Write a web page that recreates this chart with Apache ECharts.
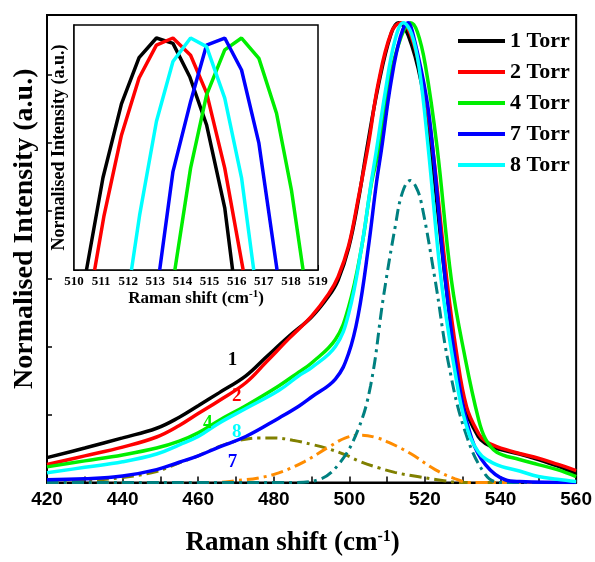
<!DOCTYPE html>
<html>
<head>
<meta charset="utf-8">
<script src="https://cdn.jsdelivr.net/npm/echarts@6/dist/echarts.min.js"></script>
<style>
  html, body { margin: 0; padding: 0; background: #fff; }
  #chart { width: 595px; height: 562px; }
</style>
</head>
<body>
<div id="chart"></div>
<script>
// ---- main plot: normalised spectra [raman shift, intensity] ----
var torr1 = [[420,0.054],[430,0.075],[440,0.097],[449,0.118],[455,0.142],[460,0.167],[465.5,0.195],[472.6,0.232],[478,0.273],[484,0.318],[490,0.36],[494.5,0.405],[497,0.44],[499.8,0.51],[502.4,0.615],[504.5,0.72],[507.7,0.865],[511,0.975],[513,1.0],[515.6,0.972],[519,0.871],[521.5,0.73],[525.4,0.44],[528,0.281],[530.7,0.161],[534.1,0.1],[536,0.085],[539,0.074],[545,0.062],[550,0.05],[555,0.036],[560,0.019]];
var torr2 = [[420,0.039],[430,0.058],[440,0.077],[449,0.099],[455,0.124],[460,0.15],[465.5,0.178],[472.6,0.217],[478,0.262],[484,0.313],[490,0.362],[494.5,0.41],[497,0.447],[499.8,0.515],[502.4,0.62],[505,0.734],[507.7,0.871],[511.1,0.979],[513.6,1.0],[516.2,0.975],[519.5,0.87],[522,0.73],[525.8,0.44],[528.3,0.285],[531,0.165],[534.3,0.105],[536,0.09],[539,0.078],[545,0.063],[550,0.053],[555,0.04],[560,0.026]];
var torr4 = [[420,0.034],[430,0.047],[440,0.06],[449,0.075],[455,0.09],[460,0.108],[465.5,0.135],[472.6,0.167],[481.3,0.21],[486.6,0.24],[490,0.26],[496.3,0.311],[499.8,0.382],[503.2,0.51],[505.9,0.654],[507.7,0.72],[510.5,0.87],[513.5,0.965],[516.2,1.0],[518,0.98],[520.1,0.908],[523.2,0.73],[527,0.44],[530.7,0.268],[534.1,0.14],[536,0.095],[539,0.066],[545,0.05],[550,0.039],[555,0.028],[560,0.013]];
var torr7 = [[420,0.006],[430,0.008],[440,0.014],[449,0.028],[455,0.044],[460,0.058],[465.5,0.077],[472.6,0.1],[481.3,0.14],[486.6,0.166],[490,0.186],[496.3,0.225],[499.8,0.281],[502.4,0.367],[505,0.51],[507.2,0.654],[508.5,0.725],[511,0.87],[513.5,0.97],[515.5,1.0],[517,0.97],[520.4,0.837],[522.2,0.715],[525.4,0.44],[528.8,0.225],[532.3,0.097],[536,0.039],[541.2,0.006],[545,0.002],[560,0]];
var torr8 = [[420,0.021],[430,0.033],[440,0.045],[449,0.062],[455,0.082],[460,0.1],[465.5,0.129],[472.6,0.161],[481.3,0.2],[486.6,0.232],[490,0.25],[496.3,0.296],[499.8,0.367],[503.2,0.51],[505.8,0.654],[507.2,0.725],[509.5,0.85],[512,0.96],[514.3,1.0],[516.5,0.975],[518.5,0.9],[520.9,0.725],[524.3,0.44],[528,0.238],[530.7,0.131],[534.1,0.067],[538.6,0.04],[545,0.025],[550,0.013],[555,0.007],[560,0.002]];

// fitted components (dash-dot)
var fitMain = [[420,0],[485,0],[491.8,0.006],[497.1,0.039],[502,0.109],[505.6,0.21],[509,0.403],[512.2,0.56],[514,0.63],[516.1,0.657],[517.5,0.645],[519,0.61],[522.7,0.44],[526.2,0.26],[530.7,0.109],[536,0.017],[540,0],[560,0]];
var fitMid = [[420,0],[465,0],[470,0.004],[476,0.01],[481.3,0.021],[488,0.045],[494.5,0.077],[499,0.097],[503,0.103],[507,0.098],[511,0.085],[516.4,0.062],[522.7,0.028],[528,0.008],[532,0],[560,0]];
var fitLow = [[420,0],[430,0.004],[440,0.011],[449,0.024],[455,0.043],[460,0.058],[465.5,0.078],[470,0.09],[476,0.097],[480,0.097],[485,0.092],[490,0.083],[495,0.072],[499,0.06],[503,0.045],[507.7,0.032],[512,0.022],[518,0.013],[525,0.004],[530,0],[560,0]];

// ---- inset: zoom of the peak top ----
var inset1 = [[510.46,0.852],[511.07,0.911],[511.75,0.958],[512.4,0.9875],[513.04,1.0],[513.65,0.9966],[514.27,0.9753],[514.89,0.9446],[515.56,0.8917],[515.85,0.852]];
var inset2 = [[510.76,0.852],[511.1,0.886],[511.75,0.938],[512.4,0.9745],[513.04,0.9955],[513.65,1.0],[514.3,0.989],[514.89,0.965],[515.56,0.917],[516.24,0.852]];
var inset4 = [[513.72,0.852],[514.3,0.917],[514.89,0.9637],[515.56,0.9924],[516.18,1.0],[516.82,0.987],[517.47,0.952],[518.02,0.903],[518.45,0.852]];
var inset7 = [[513.16,0.852],[513.65,0.9148],[514.3,0.9594],[514.89,0.9955],[515.56,1.0],[516.18,0.9796],[516.82,0.9329],[517.49,0.852]];
var inset8 = [[512.12,0.852],[512.42,0.887],[513.04,0.9467],[513.65,0.985],[514.3,1.0],[514.89,0.9945],[515.56,0.9616],[516.18,0.9108],[516.63,0.852]];

var legendNames = ['1 Torr', '2 Torr', '4 Torr', '7 Torr', '8 Torr'];
var curveColors = ['#000000', '#ff0000', '#00ee00', '#0000ff', '#00ffff'];
// curve number labels: [label, shift, intensity]
var curveTags = [['1', 469.1, 0.266], ['2', 470.2, 0.189], ['4', 462.5, 0.129], ['8', 470.2, 0.109], ['7', 469.1, 0.045]];

var serif = '"Liberation Serif", "Times New Roman", serif';

function tag(idx) {
    var t = curveTags.filter(function (c) { return c[0] === legendNames[idx].charAt(0); })[0];
    return {
        symbol: 'rect',
        symbolSize: 1,
        itemStyle: { color: 'transparent' },
        label: {
            show: true, position: 'inside', formatter: t[0],
            color: curveColors[idx], fontFamily: serif, fontWeight: 'bold', fontSize: 19
        },
        data: [{ coord: [t[1], t[2]] }]
    };
}

var mainData = [torr1, torr2, torr4, torr7, torr8];
var insetData = [inset1, inset2, inset4, inset7, inset8];

var series = [];

// 拟合分量
[[fitLow, '#808000'], [fitMid, '#ff8c00'], [fitMain, '#008080']].forEach(function (f) {
    series.push({
        type: 'line', xAxisIndex: 0, yAxisIndex: 0,
        data: f[0], smooth: 0.4, showSymbol: false, symbol: 'none',
        lineStyle: { color: f[1], width: 3, type: [12, 5, 3, 5] },
        z: 2
    });
});

// 主图曲线
mainData.forEach(function (d, i) {
    series.push({
        name: legendNames[i],
        type: 'line', xAxisIndex: 0, yAxisIndex: 0,
        data: d, smooth: 0.4, symbol: 'none',
        itemStyle: { color: curveColors[i] },
        lineStyle: { color: curveColors[i], width: 3.5 },
        markPoint: tag(i),
        z: 3
    });
});

// inset 曲线
insetData.forEach(function (d, i) {
    series.push({
        name: legendNames[i],
        type: 'line', xAxisIndex: 1, yAxisIndex: 1,
        data: d, smooth: false, symbol: 'none',
        itemStyle: { color: curveColors[i] },
        lineStyle: { color: curveColors[i], width: 3.5 },
        z: 6
    });
});

var chart = echarts.init(document.getElementById('chart'), null, { renderer: 'canvas' });

chart.setOption({
    backgroundColor: '#fff',
    animation: false,
    legend: {
        data: legendNames,
        orient: 'vertical',
        left: 458, top: 30,
        padding: 0,
        icon: 'rect',
        itemWidth: 47, itemHeight: 4, itemGap: 9,
        textStyle: { fontFamily: serif, fontWeight: 'bold', fontSize: 22, lineHeight: 22, color: '#000' }
    },
    grid: [
        { left: 47, top: 15, width: 531, height: 473, show: true, borderColor: '#000', borderWidth: 2, backgroundColor: 'transparent', z: 1 },
        { left: 74, top: 25, width: 244, height: 245, show: true, borderColor: '#000', borderWidth: 1.5, backgroundColor: '#fff', z: 5 }
    ],
    xAxis: [
        {
            gridIndex: 0, type: 'value', min: 420, max: 560, interval: 10,
            name: '{t|Raman shift (cm}{s|-1}{t|)}',
            nameLocation: 'middle', nameGap: 46,
            nameTextStyle: {
                padding: [0, 38, 0, 0],
                rich: {
                    t: { fontFamily: serif, fontWeight: 'bold', fontSize: 27, color: '#000' },
                    s: { fontFamily: serif, fontWeight: 'bold', fontSize: 16, color: '#000', verticalAlign: 'top', padding: [0, 0, 14, 0] }
                }
            },
            axisLine: { lineStyle: { color: '#000', width: 2 } },
            axisTick: { inside: true, length: 6, lineStyle: { color: '#000', width: 1.5 } },
            axisLabel: {
                margin: 8,
                formatter: function (v) { return v % 20 === 0 ? v : ''; },
                fontFamily: '"Liberation Sans", Arial, sans-serif',
                fontWeight: 'bold', fontSize: 19, color: '#000'
            },
            splitLine: { show: false }
        },
        {
            gridIndex: 1, type: 'value', min: 510, max: 519, interval: 1,
            name: '{t|Raman shift (cm}{s|-1}{t|)}',
            nameLocation: 'middle', nameGap: 19,
            nameTextStyle: {
                rich: {
                    t: { fontFamily: serif, fontWeight: 'bold', fontSize: 17, color: '#000' },
                    s: { fontFamily: serif, fontWeight: 'bold', fontSize: 11, color: '#000', verticalAlign: 'top', padding: [0, 0, 9, 0] }
                }
            },
            axisLine: { lineStyle: { color: '#000', width: 1.5 } },
            axisTick: { inside: true, length: 5, lineStyle: { color: '#000', width: 1 } },
            axisLabel: { margin: 5, fontFamily: serif, fontWeight: 'bold', fontSize: 13, color: '#000' },
            splitLine: { show: false }
        }
    ],
    yAxis: [
        {
            gridIndex: 0, type: 'value', min: 0, max: 1.017, interval: 0.148,
            name: 'Normalised Intensity (a.u.)',
            nameLocation: 'middle', nameGap: 8,
            nameTextStyle: { fontFamily: serif, fontWeight: 'bold', fontSize: 28, color: '#000', padding: [0, 0, 0, 40] },
            axisLine: { lineStyle: { color: '#000', width: 2 } },
            axisTick: { inside: true, length: 5, lineStyle: { color: '#000', width: 1.5 } },
            axisLabel: { show: false },
            splitLine: { show: false }
        },
        {
            gridIndex: 1, type: 'value', min: 0.852, max: 1.0083, splitNumber: 7,
            name: 'Normalised Intensity (a.u.)',
            nameLocation: 'middle', nameGap: 6,
            nameTextStyle: { fontFamily: serif, fontWeight: 'bold', fontSize: 18, color: '#000' },
            axisLine: { lineStyle: { color: '#000', width: 1.5 } },
            axisTick: { inside: true, length: 5, lineStyle: { color: '#000', width: 1 } },
            axisLabel: { show: false },
            splitLine: { show: false }
        }
    ],
    series: series
});
</script>
</body>
</html>
